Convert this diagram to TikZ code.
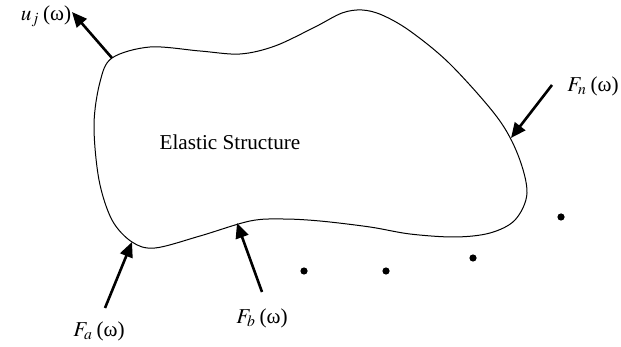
\documentclass[tikz,border=0pt]{standalone}
\usepackage{mathptmx}
\usepackage{fontspec}
\setmainfont{Liberation Serif}
\usetikzlibrary{arrows.meta,positioning}

\begin{document}
\begin{tikzpicture}[x=0.5pt,y=-0.5pt,
        outline/.style={line width=0.5pt},
        force/.style={-{Triangle[length=7.5pt,width=6.5pt]}, line width=1.3pt},
        lbl/.style={font=\fontsize{10.6}{12}\selectfont, inner sep=0pt},
        dot/.style={circle, fill, inner sep=0pt, minimum size=3.6pt}
    ]
        \useasboundingbox (0,0) rectangle (621,347);

        % Body outline
        \draw[outline] plot[smooth cycle, tension=0.55] coordinates {
            (112,58) (150,47) (200,51) (240,54) (275,46) (315,27) (342,13)
            (362,10) (382,15) (410,31) (450,64) (497,117) (518,155) (527,193)
            (515,220) (490,233) (455,237) (410,234) (370,227) (320,221)
            (283,219) (250,221) (200,236) (155,248) (132,242) (112,220)
            (99,180) (94,125) (100,82)};

        % Points on the outline
        \coordinate (pj) at (112,58);
        \coordinate (pn) at (511,138);
        \coordinate (pa) at (132,242);
        \coordinate (pb) at (237,223);

        % Arrow ends away from the body
        \coordinate (ej) at (72,12);
        \coordinate (en) at (552,85);
        \coordinate (ea) at (105,308);
        \coordinate (eb) at (262,292);

        % Labels
        \node[lbl] (body) at (230,142) {Elastic Structure};
        \node[lbl] (uj) at (46,16) {$u_j$\,(ω)};
        \node[lbl] (Fn) at (593,86) {$F_n$\,(ω)};
        \node[lbl] (Fa) at (99,331) {$F_a$\,(ω)};
        \node[lbl] (Fb) at (262,318) {$F_b$\,(ω)};

        % Forces and response
        \draw[force] (pj) -- (ej);
        \draw[force] (en) -- (pn);
        \draw[force] (ea) -- (pa);
        \draw[force] (eb) -- (pb);

        % More inputs
        \node[dot] (d1) at (304,271) {};
        \node[dot] (d2) at (386,271) {};
        \node[dot] (d3) at (473,258) {};
        \node[dot] (d4) at (561,217) {};
    \end{tikzpicture}
\end{document}
